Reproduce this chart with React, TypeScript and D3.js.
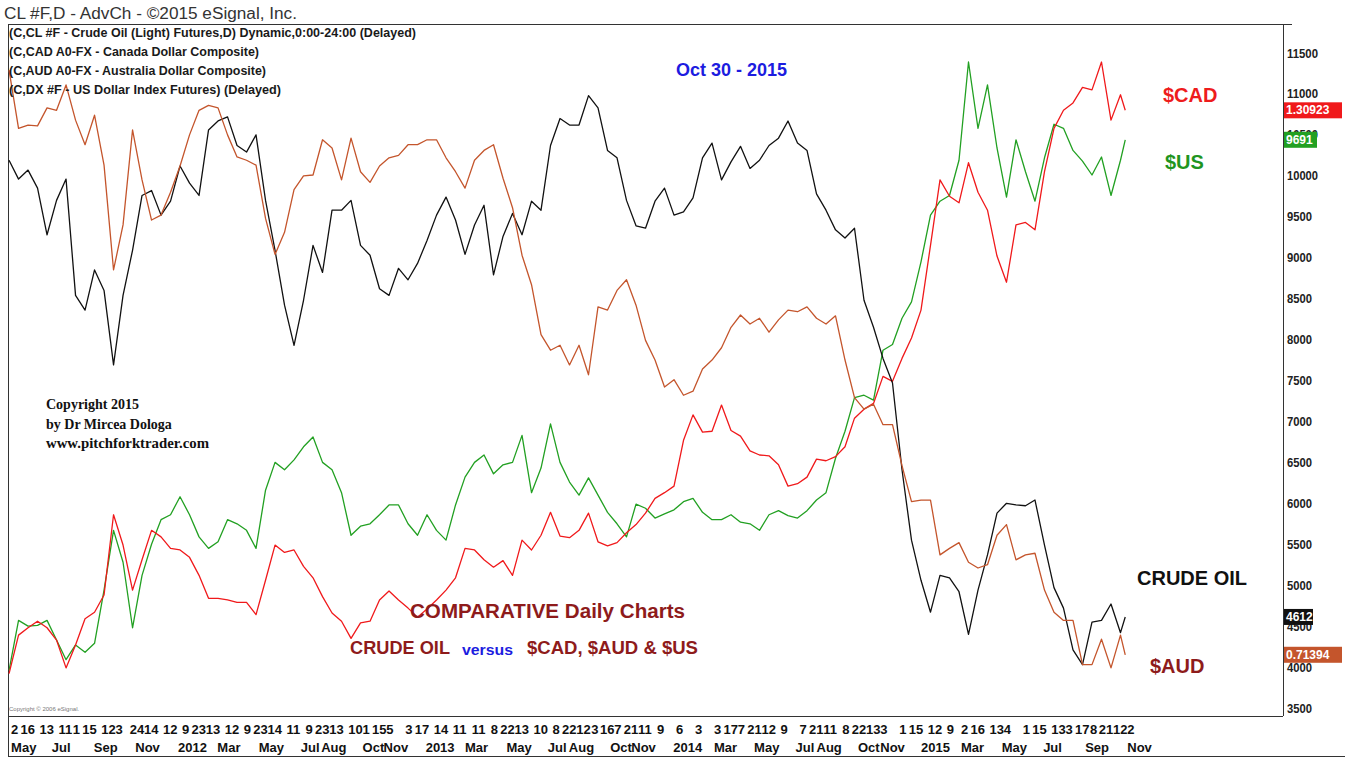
import React from "react";
import * as d3 from "d3";

// biweekly sample dates (Fridays) from late Apr 2011, last bar Oct 30 2015
const startDate = new Date(2011, 3, 29);
const dates: Date[] = d3
  .range(118)
  .map((i) => d3.timeDay.offset(startDate, 14 * i))
  .concat([new Date(2015, 9, 30)]);

// all series in the chart's common axis units (crude oil x100)
const crude = [
  10190, 9960, 10070, 9850, 9280, 9700, 9960, 8540, 8360, 8850,
  8600, 7690, 8540, 9090, 9760, 9820, 9520, 9690, 10120, 9910,
  9760, 10560, 10670, 10720, 10370, 10290, 10500, 9700, 9090, 8420,
  7930, 8480, 9150, 8820, 9580, 9580, 9700, 9150, 9030, 8620,
  8540, 8870, 8730, 8930, 9210, 9520, 9740, 9460, 9040, 9400,
  9640, 8790, 9260, 9540, 9280, 9690, 9580, 10370, 10700, 10620,
  10620, 10980, 10830, 10310, 10220, 9700, 9390, 9360, 9690, 9850,
  9520, 9560, 9730, 10220, 10400, 9950, 10170, 10360, 10090, 10190,
  10370, 10460, 10670, 10400, 10310, 9780, 9580, 9340, 9240, 9360,
  8480, 8150, 7770, 7470, 6410, 5550, 5060, 4670, 5120, 5090,
  4920, 4400, 4940, 5370, 5880, 6000, 5980, 5970, 6040, 5490,
  4970, 4720, 4210, 4030, 4550, 4570, 4770, 4420, 4612,
];

const aud = [
  11290, 10580, 10620, 10610, 10830, 10800, 11110, 10680, 10380, 10740,
  10130, 8850, 9400, 10560, 9950, 9460, 9520, 9800, 10120, 10500,
  10800, 10860, 10830, 10500, 10230, 10190, 10130, 9480, 9040, 9310,
  9830, 10000, 10010, 10440, 10340, 9950, 10460, 10050, 9920, 10120,
  10220, 10250, 10380, 10380, 10440, 10440, 10220, 10050, 9850, 10190,
  10310, 10380, 9970, 9610, 9030, 8670, 8060, 7870, 7930, 7690,
  7930, 7570, 8400, 8360, 8600, 8730, 8420, 7990, 7750, 7420,
  7510, 7320, 7370, 7640, 7750, 7900, 8150, 8300, 8190, 8260,
  8090, 8240, 8360, 8340, 8400, 8260, 8190, 8290, 7750, 7290,
  7150, 7210, 6960, 6960, 6460, 6020, 6040, 6040, 5370, 5450,
  5520, 5280, 5210, 5250, 5610, 5740, 5310, 5370, 5390, 4940,
  4670, 4570, 4570, 4030, 4030, 4340, 3990, 4390, 4150,
];

const usd = [
  3960, 4570, 4500, 4510, 4570, 4330, 4090, 4270, 4180, 4290,
  4940, 5670, 5280, 4480, 5120, 5500, 5800, 5860, 6080, 5860,
  5590, 5450, 5530, 5800, 5750, 5670, 5450, 6160, 6500, 6410,
  6530, 6690, 6810, 6500, 6410, 6130, 5610, 5720, 5750, 5860,
  5980, 5980, 5750, 5610, 5860, 5670, 5550, 5980, 6320, 6500,
  6590, 6360, 6470, 6500, 6830, 6130, 6430, 6970, 6500, 6260,
  6100, 6310, 6100, 5890, 5750, 5590, 5990, 5940, 5820, 5870,
  5920, 6020, 6060, 5890, 5800, 5800, 5860, 5770, 5750, 5670,
  5860, 5910, 5850, 5820, 5910, 6040, 6130, 6550, 6880, 7290,
  7320, 7260, 7870, 7940, 8260, 8460, 8950, 9520, 9690, 9760,
  10190, 11390, 10580, 11110, 10340, 9740, 10440, 10050, 9690, 10220,
  10630, 10580, 10310, 10180, 10010, 10230, 9760, 10190, 10440,
];

const cad = [
  3920, 4390, 4480, 4560, 4480, 4330, 3990, 4270, 4590, 4670,
  4880, 5860, 5490, 4940, 5310, 5670, 5590, 5450, 5430, 5340,
  5120, 4840, 4840, 4820, 4790, 4790, 4640, 5060, 5490, 5400,
  5430, 5230, 5090, 4860, 4660, 4560, 4350, 4540, 4560, 4820,
  4930, 4820, 4720, 4610, 4710, 4820, 4940, 5090, 5450, 5430,
  5310, 5220, 5300, 5120, 5550, 5430, 5610, 5890, 5600, 5580,
  5670, 5880, 5530, 5480, 5520, 5640, 5740, 5880, 6060, 6130,
  6210, 6770, 7080, 6870, 6880, 7200, 6890, 6820, 6640, 6590,
  6580, 6470, 6210, 6240, 6320, 6540, 6520, 6570, 6690, 7040,
  7150, 7220, 7550, 7490, 7770, 8020, 8360, 9150, 9950, 9750,
  9670, 10160, 9800, 9580, 9020, 8700, 9400, 9430, 9340, 10050,
  10580, 10800, 10890, 11080, 11050, 11390, 10680, 10990, 10800,
];

const yTicks = [3500, 4000, 4500, 5000, 5500, 6000, 6500, 7000, 7500, 8000, 8500, 9000, 9500, 10000, 10500, 11000, 11500];

const monthLabels: [string, string][] = [
  ["2011-05-02", "May"], ["2011-07-01", "Jul"], ["2011-09-01", "Sep"], ["2011-11-01", "Nov"],
  ["2012-01-03", "2012"], ["2012-03-01", "Mar"], ["2012-05-01", "May"], ["2012-07-02", "Jul"],
  ["2012-08-01", "Aug"], ["2012-10-01", "Oct"], ["2012-11-01", "Nov"], ["2013-01-02", "2013"],
  ["2013-03-01", "Mar"], ["2013-05-01", "May"], ["2013-07-01", "Jul"], ["2013-08-01", "Aug"],
  ["2013-10-01", "Oct"], ["2013-11-01", "Nov"], ["2014-01-02", "2014"], ["2014-03-03", "Mar"],
  ["2014-05-01", "May"], ["2014-07-01", "Jul"], ["2014-08-01", "Aug"], ["2014-10-01", "Oct"],
  ["2014-11-03", "Nov"], ["2015-01-02", "2015"], ["2015-03-02", "Mar"], ["2015-05-01", "May"],
  ["2015-07-01", "Jul"], ["2015-09-01", "Sep"], ["2015-11-02", "Nov"],
];

const dayTicks = [
  "2011-05-02", "2011-05-16", "2011-06-13", "2011-07-11", "2011-08-01", "2011-08-15", "2011-09-12",
  "2011-10-03", "2011-10-24", "2011-11-14", "2011-12-12", "2012-01-09", "2012-01-23", "2012-02-13",
  "2012-03-12", "2012-04-09", "2012-04-23", "2012-05-14", "2012-06-11", "2012-07-09", "2012-07-23",
  "2012-08-13", "2012-09-10", "2012-10-01", "2012-10-15", "2012-11-05", "2012-12-03", "2012-12-17",
  "2013-01-14", "2013-02-11", "2013-03-11", "2013-04-08", "2013-04-22", "2013-05-13", "2013-06-10",
  "2013-07-08", "2013-07-22", "2013-08-12", "2013-09-03", "2013-09-16", "2013-10-07", "2013-10-21",
  "2013-11-11", "2013-12-09", "2014-01-06", "2014-02-03", "2014-03-03", "2014-03-17", "2014-04-07",
  "2014-04-21", "2014-05-12", "2014-06-09", "2014-07-07", "2014-07-21", "2014-08-11", "2014-09-08",
  "2014-09-22", "2014-10-13", "2014-11-03", "2014-12-01", "2014-12-15", "2015-01-12", "2015-02-09",
  "2015-03-02", "2015-03-16", "2015-04-13", "2015-05-04", "2015-06-01", "2015-06-15", "2015-07-13",
  "2015-08-03", "2015-08-17", "2015-09-08", "2015-09-21", "2015-10-12", "2015-11-02",
];

const headerLines = [
  ["(C,CL #F - Crude Oil (Light) Futures,D) Dynamic,0:00-24:00 (Delayed)", 407],
  ["(C,CAD A0-FX - Canada Dollar Composite)", 250],
  ["(C,AUD A0-FX - Australia Dollar Composite)", 257],
  ["(C,DX #F - US Dollar Index Futures)  (Delayed)", 272],
] as [string, number][];

const series = [
  { key: "usd", values: usd, color: "#22a022", tag: "9691", tagW: 33 },
  { key: "cad", values: cad, color: "#f0191b", tag: "1.30923", tagW: 58 },
  { key: "crude", values: crude, color: "#111111", tag: "4612", tagW: 29 },
  { key: "aud", values: aud, color: "#c4552c", tag: "0.71394", tagW: 58 },
];

const frame = { left: 8, right: 1283, top: 24, bottom: 716 };
const parse = d3.timeParse("%Y-%m-%d");
const sans = "'Liberation Sans', Arial, sans-serif";
const narrow = "'Liberation Sans Narrow', 'Arial Narrow', 'Liberation Sans', sans-serif";

export default function App() {
  const x = d3.scaleTime().domain([new Date(2012, 0, 3), new Date(2015, 0, 2)]).range([178, 921]);
  const y = d3.scaleLinear().domain([3500, 11500]).range([708, 53]);

  const line = d3
    .line<number>()
    .x((d, i) => x(dates[i]))
    .y((d) => y(d));

  const darkRed = "#8e1b1b";

  return (
    <svg width={1345} height={758} style={{ position: "absolute", left: 0, top: 0, background: "#fff" }}>
      <defs>
        <clipPath id="plot">
          <rect x={frame.left} y={frame.top} width={frame.right - frame.left} height={frame.bottom - frame.top} />
        </clipPath>
      </defs>

      {/* title */}
      <text x={4} y={13} fontFamily={sans} fontSize={16} fill="#333" dominantBaseline="central" textLength={293} lengthAdjust="spacingAndGlyphs">
        CL #F,D - AdvCh - ©2015 eSignal, Inc.
      </text>

      {/* frame */}
      <g stroke="#333" strokeWidth={1} fill="none">
        <line x1={frame.left} x2={1292} y1={frame.top + 0.5} y2={frame.top + 0.5} />
        <line x1={frame.left + 0.5} x2={frame.left + 0.5} y1={frame.top} y2={756} />
        <line x1={frame.right + 0.5} x2={frame.right + 0.5} y1={frame.top} y2={frame.bottom} />
        <line x1={frame.left} x2={frame.right} y1={frame.bottom + 0.5} y2={frame.bottom + 0.5} />
        <line x1={frame.left} x2={1345} y1={756.5} y2={756.5} />
      </g>

      {/* series */}
      <g clipPath="url(#plot)" fill="none" strokeWidth={1.3} strokeLinejoin="round">
        {series.map((s) => (
          <path key={s.key} d={line(s.values) || ""} stroke={s.color} />
        ))}
      </g>

      {/* header legend */}
      {headerLines.map(([t, w], i) => (
        <text key={i} x={9} y={33 + i * 19} fontFamily={sans} fontSize={12} fontWeight="bold" fill="#1a1a1a" dominantBaseline="central" textLength={w} lengthAdjust="spacingAndGlyphs">
          {t}
        </text>
      ))}

      {/* right axis */}
      {yTicks.map((t) => (
        <text key={t} x={1287} y={y(t)} fontFamily={sans} fontSize={13} fontWeight="bold" fill="#222" dominantBaseline="central" textLength={t >= 10000 ? 31 : 25} lengthAdjust="spacingAndGlyphs">
          {t}
        </text>
      ))}

      {/* last value tags */}
      {series.map((s) => {
        const v = s.values[s.values.length - 1];
        const cy = y(v);
        return (
          <g key={s.key + "-tag"}>
            <rect x={1284} y={cy - 8} width={s.tagW} height={16} fill={s.color} />
            <text x={1286} y={cy} fontFamily={sans} fontSize={12} fontWeight="bold" fill="#fff" dominantBaseline="central">
              {s.tag}
            </text>
          </g>
        );
      })}

      {/* x axis */}
      {dayTicks.map((d) => {
        const dt = parse(d) as Date;
        return (
          <text key={d} x={x(dt)} y={729} fontFamily={narrow} fontSize={13} fontWeight="bold" fill="#111" dominantBaseline="central">
            {dt.getDate()}
          </text>
        );
      })}
      {monthLabels.map(([d, label]) => (
        <text key={d} x={x(parse(d) as Date)} y={747} fontFamily={narrow} fontSize={13} fontWeight="bold" fill="#111" dominantBaseline="central">
          {label}
        </text>
      ))}

      {/* annotations */}
      <text x={676} y={70} fontFamily={sans} fontSize={18} fontWeight="bold" fill="#1c1ce0" dominantBaseline="central">
        Oct 30 - 2015
      </text>
      <text x={1163} y={95} fontFamily={sans} fontSize={20} fontWeight="bold" fill="#ee1c1c" dominantBaseline="central">
        $CAD
      </text>
      <text x={1165} y={162} fontFamily={sans} fontSize={20} fontWeight="bold" fill="#1f951f" dominantBaseline="central">
        $US
      </text>
      <text x={1137} y={578} fontFamily={sans} fontSize={20} fontWeight="bold" fill="#111" dominantBaseline="central">
        CRUDE OIL
      </text>
      <text x={1150} y={666} fontFamily={sans} fontSize={20} fontWeight="bold" fill={darkRed} dominantBaseline="central">
        $AUD
      </text>

      <g fontFamily="'Liberation Serif', 'Times New Roman', serif" fontSize={14} fontWeight="bold" fill="#111">
        <text x={46} y={404} dominantBaseline="central">Copyright 2015</text>
        <text x={46} y={424} dominantBaseline="central">by Dr Mircea Dologa</text>
        <text x={46} y={443} dominantBaseline="central" textLength={163} lengthAdjust="spacingAndGlyphs">www.pitchforktrader.com</text>
      </g>

      <text x={410} y={611} fontFamily={sans} fontSize={20} fontWeight="bold" fill={darkRed} dominantBaseline="central" textLength={275} lengthAdjust="spacingAndGlyphs">
        COMPARATIVE Daily Charts
      </text>
      <text x={350} y={648} fontFamily={sans} fontSize={18} fontWeight="bold" fill={darkRed} dominantBaseline="central" textLength={100} lengthAdjust="spacingAndGlyphs">
        CRUDE OIL
      </text>
      <text x={462} y={649} fontFamily={sans} fontSize={15} fontWeight="bold" fill="#1c1ce0" dominantBaseline="central" textLength={51} lengthAdjust="spacingAndGlyphs">
        versus
      </text>
      <text x={527} y={648} fontFamily={sans} fontSize={18} fontWeight="bold" fill={darkRed} dominantBaseline="central" textLength={171} lengthAdjust="spacingAndGlyphs">
        $CAD, $AUD &amp; $US
      </text>

      <text x={9} y={709} fontFamily={sans} fontSize={6} fill="#777" dominantBaseline="central">
        Copyright © 2006 eSignal.
      </text>
    </svg>
  );
}
